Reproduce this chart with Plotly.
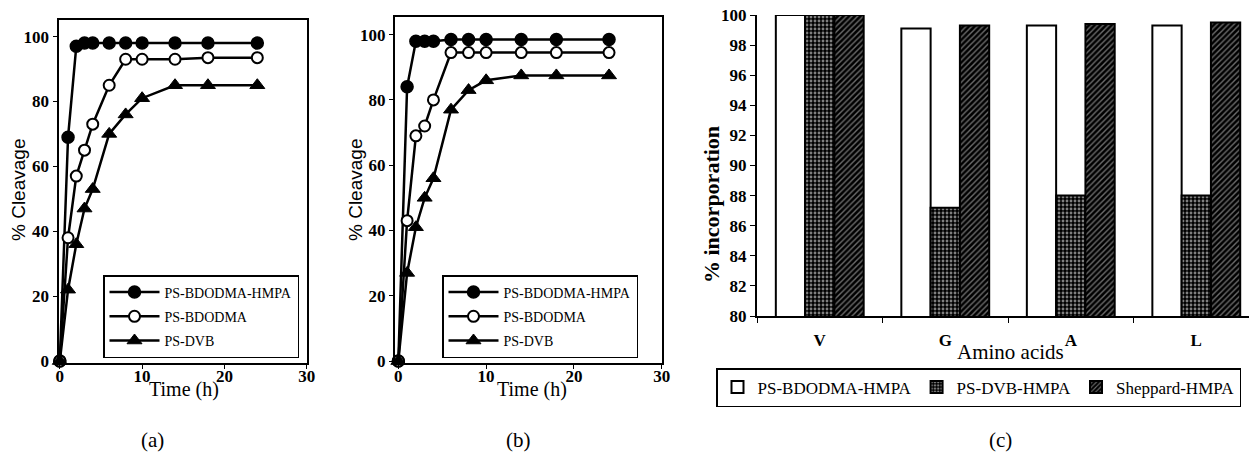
import plotly.graph_objects as go

# ---- data ----
time_h = [0, 1, 2, 3, 4, 6, 8, 10, 14, 18, 24]

# (a) cleavage profiles
a_bdodma_hmpa = [0, 69, 97, 98, 98, 98, 98, 98, 98, 98, 98]
a_bdodma = [0, 38, 57, 65, 73, 85, 93, 93, 93, 93.5, 93.5]
a_dvb = [0, 22, 36, 47, 53, 70, 76, 81, 85, 85, 85]

# (b) cleavage profiles
b_bdodma_hmpa = [0, 84, 98, 98, 98, 98.5, 98.5, 98.5, 98.5, 98.5, 98.5]
b_bdodma = [0, 43, 69, 72, 80, 94.5, 94.5, 94.5, 94.5, 94.5, 94.5]
b_dvb = [0, 27, 41, 50, 56, 77, 83, 86, 87.5, 87.5, 87.5]

line_names = ["PS-BDODMA-HMPA", "PS-BDODMA", "PS-DVB"]

# (c) incorporation of amino acids
amino_acids = ["V", "G", "A", "L"]
inc_bdodma_hmpa = [100, 99.1, 99.3, 99.3]
inc_dvb_hmpa = [100, 87.2, 88.0, 88.0]
inc_sheppard_hmpa = [100, 99.3, 99.4, 99.5]
bar_names = ["PS-BDODMA-HMPA", "PS-DVB-HMPA", "Sheppard-HMPA"]

# ---- geometry helpers (pixel -> paper) ----
W, H = 1249, 466


def px(x):
    return x / W


def py(y):
    return 1 - y / H


SERIF = "Liberation Serif, Times New Roman, serif"
SANS = "Liberation Sans, Arial, sans-serif"

fig = go.Figure()

marker_styles = [
    dict(symbol="circle", size=12, color="black", line=dict(color="black", width=1.5)),
    dict(symbol="circle", size=11, color="white", line=dict(color="black", width=2)),
    dict(symbol="triangle-up", size=13, color="black", line=dict(color="black", width=1)),
]

for panel, series, xa, ya, lg in [
    ("a", [a_bdodma_hmpa, a_bdodma, a_dvb], "x", "y", "legend"),
    ("b", [b_bdodma_hmpa, b_bdodma, b_dvb], "x2", "y2", "legend2"),
]:
    for i, (name, vals) in enumerate(zip(line_names, series)):
        fig.add_trace(go.Scatter(
            x=time_h, y=vals, name=name, mode="lines+markers",
            line=dict(color="black", width=2.5),
            marker=marker_styles[i],
            xaxis=xa, yaxis=ya, legend=lg,
            legendgroup=f"{panel}{i}", cliponaxis=False,
        ))

bar_styles = [
    dict(color="white", line=dict(color="black", width=2)),
    dict(color="black", line=dict(color="black", width=2),
         pattern=dict(shape=".", bgcolor="black", fgcolor="white", size=4, solidity=0.4)),
    dict(color="black", line=dict(color="black", width=2),
         pattern=dict(shape="/", bgcolor="black", fgcolor="#d8d8d8", size=4, solidity=0.35)),
]
for i, (name, vals) in enumerate(zip(bar_names, [inc_bdodma_hmpa, inc_dvb_hmpa, inc_sheppard_hmpa])):
    fig.add_trace(go.Bar(
        x=amino_acids, y=vals, name=name, marker=bar_styles[i],
        xaxis="x3", yaxis="y3", legend="legend3",
    ))

tick_font = dict(family=SERIF, size=17, color="black", weight="bold")
frame = dict(showline=True, linecolor="black", linewidth=2, mirror=True,
             ticks="outside", ticklen=4, tickcolor="black", showgrid=False,
             zeroline=False, tickfont=tick_font)

fig.update_layout(
    width=W, height=H,
    margin=dict(l=0, r=0, t=0, b=0, autoexpand=False),
    paper_bgcolor="white", plot_bgcolor="white",
    showlegend=True,
    barmode="group", bargap=0.30, bargroupgap=0,
    xaxis=dict(domain=[px(58.5), px(306.7)], range=[-0.16, 30], tickvals=[0, 10, 20, 30],
               anchor="y", ticklabelstandoff=-7, **frame),
    yaxis=dict(domain=[py(363), py(20)], range=[-0.6, 105.1], tickvals=[0, 20, 40, 60, 80, 100], anchor="x", **frame),
    xaxis2=dict(domain=[px(395), px(661.7)], range=[-0.38, 30], tickvals=[0, 10, 20, 30],
                anchor="y2", ticklabelstandoff=-7, **frame),
    yaxis2=dict(domain=[py(363), py(17)], range=[-0.6, 105.4], tickvals=[0, 20, 40, 60, 80, 100], anchor="x2", **frame),
    xaxis3=dict(domain=[px(757), 1.0], range=[-0.5, 3.42], anchor="y3", type="category",
                showline=True, linecolor="black", linewidth=2, ticks="outside", ticklen=5,
                tickson="boundaries", tickcolor="black", showgrid=False, tickfont=tick_font,
                ticklabelstandoff=8),
    yaxis3=dict(domain=[py(316), py(15)], range=[80, 100], dtick=2, anchor="x3",
                showline=True, linecolor="black", linewidth=2, ticks="outside", ticklen=5,
                tickcolor="black", showgrid=False, zeroline=False, tickfont=tick_font),
    legend=dict(x=px(103), y=py(275), xanchor="left", yanchor="top",
                bordercolor="black", borderwidth=1.5, bgcolor="white",
                font=dict(family=SERIF, size=14, color="black"),
                itemwidth=50, tracegroupgap=3),
    legend2=dict(x=px(442), y=py(275), xanchor="left", yanchor="top",
                 bordercolor="black", borderwidth=1.5, bgcolor="white",
                 font=dict(family=SERIF, size=14, color="black"),
                 itemwidth=50, tracegroupgap=3),
    legend3=dict(x=px(716), y=py(368), xanchor="left", yanchor="top", orientation="h",
                 bordercolor="black", borderwidth=1.5, bgcolor="white",
                 font=dict(family=SERIF, size=17, color="black"),
                 itemwidth=30),
)

annotations = [
    dict(text="% Cleavage", x=px(18), y=py(190), textangle=-90,
         font=dict(family=SANS, size=19, color="black")),
    dict(text="% Cleavage", x=px(355), y=py(190), textangle=-90,
         font=dict(family=SANS, size=19, color="black")),
    dict(text="Time (h)", x=px(184), y=py(389), font=dict(family=SERIF, size=20, color="black")),
    dict(text="Time (h)", x=px(532), y=py(389), font=dict(family=SERIF, size=20, color="black")),
    dict(text="% incorporation", x=px(711), y=py(205), textangle=-90,
         font=dict(family=SERIF, size=22, color="black", weight="bold")),
    dict(text="Amino acids", x=px(1010), y=py(352), font=dict(family=SERIF, size=21, color="black")),
    dict(text="(a)", x=px(152), y=py(440), font=dict(family=SERIF, size=21, color="black")),
    dict(text="(b)", x=px(518), y=py(440), font=dict(family=SERIF, size=21, color="black")),
    dict(text="(c)", x=px(1000), y=py(440), font=dict(family=SERIF, size=21, color="black")),
]
for a in annotations:
    a.update(xref="paper", yref="paper", showarrow=False, xanchor="center", yanchor="middle")
fig.update_layout(annotations=annotations)

fig.write_html("out.html")
